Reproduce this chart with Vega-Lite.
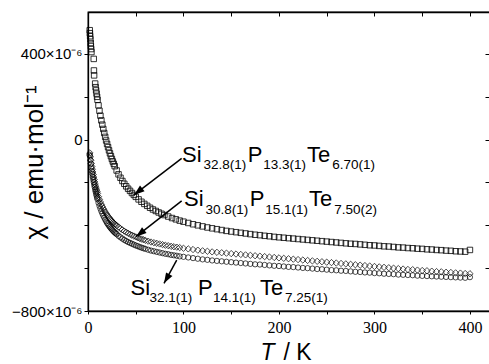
{
"$schema":"https://vega.github.io/schema/vega-lite/v6.json",
"width":402,"height":299,
"autosize":"none",
"padding":{"left":88,"top":12,"right":0,"bottom":53},
"background":"white",
"config":{
 "view":{"stroke":"black","strokeWidth":1.3},
 "axis":{"domainColor":"black","domainWidth":1.3,"tickColor":"black","tickWidth":1,"labelColor":"black","titleColor":"black","grid":false}
},
"datasets":{
 "sq":[{"T":1.8,"chi":511},{"T":2.0,"chi":497},{"T":2.2,"chi":483},{"T":2.5,"chi":469},{"T":2.8,"chi":451},{"T":3.0,"chi":437},{"T":3.3,"chi":423},{"T":3.6,"chi":409},{"T":6.0,"chi":377},{"T":6.2,"chi":323},{"T":6.4,"chi":300},{"T":7.5,"chi":262},{"T":8,"chi":245},{"T":8.5,"chi":230},{"T":9,"chi":215},{"T":9.5,"chi":200},{"T":10,"chi":186},{"T":11,"chi":160},{"T":12,"chi":135},{"T":13,"chi":112},{"T":14,"chi":90},{"T":15,"chi":70},{"T":16,"chi":50},{"T":17,"chi":31},{"T":18,"chi":13},{"T":19,"chi":-4},{"T":20,"chi":-20},{"T":21,"chi":-35},{"T":22,"chi":-50},{"T":23,"chi":-64},{"T":24,"chi":-77},{"T":25,"chi":-90},{"T":26,"chi":-102},{"T":27,"chi":-113},{"T":28,"chi":-124},{"T":30,"chi":-144},{"T":32,"chi":-162},{"T":34,"chi":-178},{"T":36,"chi":-193},{"T":38,"chi":-206},{"T":40,"chi":-218},{"T":42,"chi":-229},{"T":44,"chi":-239},{"T":46,"chi":-249},{"T":48,"chi":-258},{"T":50,"chi":-267},{"T":53,"chi":-279},{"T":56,"chi":-290},{"T":59,"chi":-300},{"T":62,"chi":-309},{"T":65,"chi":-318},{"T":68,"chi":-326},{"T":71,"chi":-333},{"T":74,"chi":-340},{"T":77,"chi":-346},{"T":80,"chi":-352},{"T":84,"chi":-359},{"T":88,"chi":-366},{"T":92,"chi":-372},{"T":96,"chi":-378},{"T":100,"chi":-383},{"T":105,"chi":-389},{"T":110,"chi":-395},{"T":115,"chi":-400},{"T":120,"chi":-405},{"T":125,"chi":-410},{"T":130,"chi":-414},{"T":135,"chi":-418},{"T":140,"chi":-422},{"T":145,"chi":-426},{"T":150,"chi":-429},{"T":155,"chi":-432},{"T":160,"chi":-435},{"T":165,"chi":-438},{"T":170,"chi":-441},{"T":175,"chi":-444},{"T":180,"chi":-446},{"T":185,"chi":-449},{"T":190,"chi":-451},{"T":195,"chi":-454},{"T":200,"chi":-456},{"T":205,"chi":-458},{"T":210,"chi":-460},{"T":215,"chi":-462},{"T":220,"chi":-464},{"T":225,"chi":-466},{"T":230,"chi":-468},{"T":235,"chi":-470},{"T":240,"chi":-472},{"T":245,"chi":-474},{"T":250,"chi":-476},{"T":255,"chi":-478},{"T":260,"chi":-480},{"T":265,"chi":-482},{"T":270,"chi":-484},{"T":275,"chi":-486},{"T":280,"chi":-487},{"T":285,"chi":-489},{"T":290,"chi":-491},{"T":295,"chi":-493},{"T":300,"chi":-494},{"T":305,"chi":-496},{"T":310,"chi":-498},{"T":315,"chi":-499},{"T":320,"chi":-501},{"T":325,"chi":-503},{"T":330,"chi":-504},{"T":335,"chi":-506},{"T":340,"chi":-507},{"T":345,"chi":-509},{"T":350,"chi":-510},{"T":355,"chi":-512},{"T":360,"chi":-513},{"T":365,"chi":-515},{"T":370,"chi":-516},{"T":375,"chi":-518},{"T":380,"chi":-519},{"T":385,"chi":-521},{"T":390,"chi":-522},{"T":395,"chi":-523},{"T":400,"chi":-515}],
 "di":[{"T":2,"chi":-62},{"T":2.5,"chi":-80},{"T":3,"chi":-96},{"T":3.5,"chi":-111},{"T":4,"chi":-125},{"T":4.5,"chi":-138},{"T":5,"chi":-151},{"T":5.5,"chi":-163},{"T":6,"chi":-175},{"T":6.5,"chi":-186},{"T":7,"chi":-197},{"T":7.5,"chi":-207},{"T":8,"chi":-217},{"T":8.5,"chi":-226},{"T":9,"chi":-235},{"T":9.5,"chi":-243},{"T":10,"chi":-251},{"T":11,"chi":-266},{"T":12,"chi":-279},{"T":13,"chi":-291},{"T":14,"chi":-302},{"T":15,"chi":-312},{"T":16,"chi":-321},{"T":17,"chi":-330},{"T":18,"chi":-338},{"T":19,"chi":-345},{"T":20,"chi":-352},{"T":21,"chi":-358},{"T":22,"chi":-364},{"T":23,"chi":-370},{"T":24,"chi":-375},{"T":25,"chi":-380},{"T":26,"chi":-385},{"T":27,"chi":-389},{"T":28,"chi":-393},{"T":29,"chi":-397},{"T":30,"chi":-401},{"T":32,"chi":-408},{"T":34,"chi":-415},{"T":36,"chi":-421},{"T":38,"chi":-427},{"T":40,"chi":-432},{"T":42,"chi":-437},{"T":44,"chi":-442},{"T":46,"chi":-446},{"T":48,"chi":-450},{"T":50,"chi":-454},{"T":52,"chi":-458},{"T":54,"chi":-461},{"T":56,"chi":-464},{"T":58,"chi":-467},{"T":60,"chi":-470},{"T":63,"chi":-474},{"T":66,"chi":-478},{"T":69,"chi":-481},{"T":72,"chi":-484},{"T":75,"chi":-487},{"T":78,"chi":-490},{"T":81,"chi":-493},{"T":84,"chi":-495},{"T":87,"chi":-498},{"T":90,"chi":-500},{"T":93,"chi":-502},{"T":96,"chi":-504},{"T":100,"chi":-507},{"T":105,"chi":-510},{"T":110,"chi":-513},{"T":115,"chi":-516},{"T":120,"chi":-519},{"T":125,"chi":-521},{"T":130,"chi":-524},{"T":135,"chi":-526},{"T":140,"chi":-528},{"T":145,"chi":-530},{"T":150,"chi":-532},{"T":155,"chi":-534},{"T":160,"chi":-536},{"T":165,"chi":-538},{"T":170,"chi":-540},{"T":175,"chi":-542},{"T":180,"chi":-544},{"T":185,"chi":-546},{"T":190,"chi":-548},{"T":195,"chi":-550},{"T":200,"chi":-552},{"T":205,"chi":-554},{"T":210,"chi":-556},{"T":215,"chi":-558},{"T":220,"chi":-560},{"T":225,"chi":-562},{"T":230,"chi":-564},{"T":235,"chi":-566},{"T":240,"chi":-568},{"T":245,"chi":-570},{"T":250,"chi":-572},{"T":255,"chi":-574},{"T":260,"chi":-576},{"T":265,"chi":-578},{"T":270,"chi":-580},{"T":275,"chi":-582},{"T":280,"chi":-584},{"T":285,"chi":-586},{"T":290,"chi":-588},{"T":295,"chi":-590},{"T":300,"chi":-592},{"T":305,"chi":-594},{"T":310,"chi":-596},{"T":315,"chi":-598},{"T":320,"chi":-600},{"T":325,"chi":-602},{"T":330,"chi":-604},{"T":335,"chi":-606},{"T":340,"chi":-607},{"T":345,"chi":-609},{"T":350,"chi":-611},{"T":355,"chi":-612},{"T":360,"chi":-614},{"T":365,"chi":-616},{"T":370,"chi":-617},{"T":375,"chi":-619},{"T":380,"chi":-620},{"T":385,"chi":-622},{"T":390,"chi":-623},{"T":395,"chi":-625},{"T":400,"chi":-626}],
 "ci":[{"T":1.6,"chi":-70},{"T":2,"chi":-75},{"T":2.5,"chi":-95},{"T":3,"chi":-113},{"T":3.5,"chi":-130},{"T":4,"chi":-146},{"T":4.5,"chi":-160},{"T":5,"chi":-174},{"T":5.5,"chi":-187},{"T":6,"chi":-199},{"T":6.5,"chi":-211},{"T":7,"chi":-222},{"T":7.5,"chi":-233},{"T":8,"chi":-243},{"T":8.5,"chi":-253},{"T":9,"chi":-262},{"T":9.5,"chi":-271},{"T":10,"chi":-279},{"T":11,"chi":-295},{"T":12,"chi":-309},{"T":13,"chi":-322},{"T":14,"chi":-334},{"T":15,"chi":-345},{"T":16,"chi":-355},{"T":17,"chi":-364},{"T":18,"chi":-373},{"T":19,"chi":-381},{"T":20,"chi":-389},{"T":21,"chi":-396},{"T":22,"chi":-402},{"T":23,"chi":-408},{"T":24,"chi":-414},{"T":25,"chi":-419},{"T":26,"chi":-424},{"T":27,"chi":-429},{"T":28,"chi":-433},{"T":29,"chi":-437},{"T":30,"chi":-441},{"T":32,"chi":-449},{"T":34,"chi":-456},{"T":36,"chi":-462},{"T":38,"chi":-468},{"T":40,"chi":-473},{"T":42,"chi":-478},{"T":44,"chi":-482},{"T":46,"chi":-486},{"T":48,"chi":-490},{"T":50,"chi":-494},{"T":52,"chi":-497},{"T":54,"chi":-501},{"T":56,"chi":-504},{"T":58,"chi":-507},{"T":60,"chi":-510},{"T":63,"chi":-514},{"T":66,"chi":-518},{"T":69,"chi":-521},{"T":72,"chi":-524},{"T":75,"chi":-527},{"T":78,"chi":-530},{"T":81,"chi":-533},{"T":84,"chi":-535},{"T":87,"chi":-538},{"T":90,"chi":-540},{"T":93,"chi":-542},{"T":96,"chi":-545},{"T":100,"chi":-547},{"T":105,"chi":-550},{"T":110,"chi":-553},{"T":115,"chi":-556},{"T":120,"chi":-559},{"T":125,"chi":-561},{"T":130,"chi":-564},{"T":135,"chi":-566},{"T":140,"chi":-568},{"T":145,"chi":-570},{"T":150,"chi":-572},{"T":155,"chi":-574},{"T":160,"chi":-576},{"T":165,"chi":-578},{"T":170,"chi":-580},{"T":175,"chi":-582},{"T":180,"chi":-583},{"T":185,"chi":-585},{"T":190,"chi":-587},{"T":195,"chi":-589},{"T":200,"chi":-590},{"T":205,"chi":-592},{"T":210,"chi":-594},{"T":215,"chi":-595},{"T":220,"chi":-597},{"T":225,"chi":-599},{"T":230,"chi":-600},{"T":235,"chi":-602},{"T":240,"chi":-604},{"T":245,"chi":-605},{"T":250,"chi":-607},{"T":255,"chi":-609},{"T":260,"chi":-610},{"T":265,"chi":-612},{"T":270,"chi":-613},{"T":275,"chi":-615},{"T":280,"chi":-617},{"T":285,"chi":-618},{"T":290,"chi":-620},{"T":295,"chi":-621},{"T":300,"chi":-623},{"T":305,"chi":-624},{"T":310,"chi":-626},{"T":315,"chi":-627},{"T":320,"chi":-628},{"T":325,"chi":-630},{"T":330,"chi":-631},{"T":335,"chi":-632},{"T":340,"chi":-633},{"T":345,"chi":-635},{"T":350,"chi":-636},{"T":355,"chi":-637},{"T":360,"chi":-638},{"T":365,"chi":-639},{"T":370,"chi":-640},{"T":375,"chi":-641},{"T":380,"chi":-642},{"T":385,"chi":-643},{"T":390,"chi":-644},{"T":395,"chi":-645},{"T":400,"chi":-642}],
 "arrows":[{"id":1,"T":48.2,"chi":-258,"T2":98.1,"chi2":-87},{"id":2,"T":50.3,"chi":-453,"T2":98.1,"chi2":-286},{"id":3,"T":79.6,"chi":-671,"T2":92.9,"chi2":-562}],
 "main":[{"T":98.4,"chi":-104,"label":"Si"},{"T":167.2,"chi":-104,"label":"P"},{"T":229.4,"chi":-104,"label":"Te"},{"T":100.5,"chi":-310,"label":"Si"},{"T":169.3,"chi":-310,"label":"P"},{"T":231.5,"chi":-310,"label":"Te"},{"T":44.5,"chi":-725,"label":"Si"},{"T":115.2,"chi":-725,"label":"P"},{"T":180.1,"chi":-725,"label":"Te"}],
 "sub":[{"T":120.9,"chi":-137,"label":"32.8(1)"},{"T":183.5,"chi":-137,"label":"13.3(1)"},{"T":255.8,"chi":-137,"label":"6.70(1)"},{"T":123.0,"chi":-347,"label":"30.8(1)"},{"T":185.5,"chi":-347,"label":"15.1(1)"},{"T":257.9,"chi":-347,"label":"7.50(2)"},{"T":64.4,"chi":-756,"label":"32.1(1)"},{"T":130.9,"chi":-756,"label":"14.1(1)"},{"T":206.3,"chi":-756,"label":"7.25(1)"}]
},
"encoding":{
 "x":{"field":"T","type":"quantitative","scale":{"domain":[0,421],"nice":false,"zero":false},"axis":null},
 "y":{"field":"chi","type":"quantitative","scale":{"domain":[-800,596],"nice":false,"zero":false},"axis":null}
},
"layer":[
 {"data":{"name":"sq"},
  "mark":{"type":"point","shape":"square","filled":false,"size":30,"stroke":"black","strokeWidth":0.8,"opacity":1},
  "encoding":{
   "x":{"field":"T","type":"quantitative","scale":{"domain":[0,421],"nice":false,"zero":false},
    "axis":{"orient":"bottom","values":[0,50,100,150,200,250,300,350,400],"labelExpr":"datum.value % 100 === 0 ? datum.label : ''","tickSize":3,"labelFont":"Liberation Serif","labelFontSize":16,"labelPadding":5,"labelFlush":false,"labelOverlap":false,
     "title":"/ K","titleFont":"Liberation Sans","titleFontSize":23,"titleFontWeight":"normal","titleX":195,"titleY":48,"titleAlign":"left","titleBaseline":"alphabetic","titleAnchor":null}},
   "y":{"field":"chi","type":"quantitative","scale":{"domain":[-800,596],"nice":false,"zero":false},
    "axis":{"orient":"left","values":[-800,-600,-400,-200,0,200,400],"labelExpr":"datum.value === 400 ? '400×10⁻⁶' : datum.value === 0 ? '0' : datum.value === -800 ? '−800×10⁻⁶' : ''","tickSize":4,"labelFont":"Liberation Sans","labelFontSize":15,"labelPadding":2,"labelFlush":false,"labelOverlap":false,
     "title":"χ / emu·mol⁻¹","titleFont":"Liberation Sans","titleFontSize":26,"titleFontWeight":"normal","titleAngle":-90,"titleX":-54,"titleY":150,"titleAlign":"center","titleBaseline":"middle","titleAnchor":null}}
  }},
 {"data":{"name":"di"},
  "mark":{"type":"point","shape":"diamond","filled":false,"size":40,"stroke":"black","strokeWidth":0.7,"opacity":1},
  "encoding":{
   "x":{"field":"T","type":"quantitative","scale":{"domain":[0,421],"nice":false,"zero":false},
    "axis":{"orient":"top","values":[0,50,100,150,200,250,300,350,400],"labels":false,"tickSize":-4,
     "title":"T","titleFont":"Liberation Sans","titleFontSize":23,"titleFontStyle":"italic","titleFontWeight":"normal","titleX":172,"titleY":347,"titleAlign":"left","titleBaseline":"alphabetic","titleAnchor":null}},
   "y":{"field":"chi","type":"quantitative","scale":{"domain":[-800,596],"nice":false,"zero":false},
    "axis":{"orient":"right","values":[-800,-600,-400,-200,0,200,400],"labels":false,"tickSize":-5,"title":null}}
  }},
 {"data":{"name":"ci"},
  "mark":{"type":"point","shape":"circle","filled":false,"size":28,"stroke":"black","strokeWidth":0.7,"opacity":1}},
 {"data":{"name":"arrows"},
  "mark":{"type":"rule","stroke":"black","strokeWidth":1.5},
  "encoding":{"x2":{"field":"T2"},"y2":{"field":"chi2"}}},
 {"data":{"name":"arrows"},"transform":[{"filter":"datum.id === 1"}],
  "mark":{"type":"point","shape":"M0,0L-0.7,2L0.7,2Z","filled":true,"color":"black","size":110,"angle":232,"opacity":1}},
 {"data":{"name":"arrows"},"transform":[{"filter":"datum.id === 2"}],
  "mark":{"type":"point","shape":"M0,0L-0.7,2L0.7,2Z","filled":true,"color":"black","size":110,"angle":232,"opacity":1}},
 {"data":{"name":"arrows"},"transform":[{"filter":"datum.id === 3"}],
  "mark":{"type":"point","shape":"M0,0L-0.7,2L0.7,2Z","filled":true,"color":"black","size":110,"angle":210,"opacity":1}},
 {"data":{"name":"main"},
  "mark":{"type":"text","align":"left","baseline":"alphabetic","font":"Liberation Sans","fontSize":22,"color":"black"},
  "encoding":{"text":{"field":"label"}}},
 {"data":{"name":"sub"},
  "mark":{"type":"text","align":"left","baseline":"alphabetic","font":"Liberation Sans","fontSize":13.5,"color":"black"},
  "encoding":{"text":{"field":"label"}}}
],
"resolve":{"axis":{"x":"independent","y":"independent"}}
}
